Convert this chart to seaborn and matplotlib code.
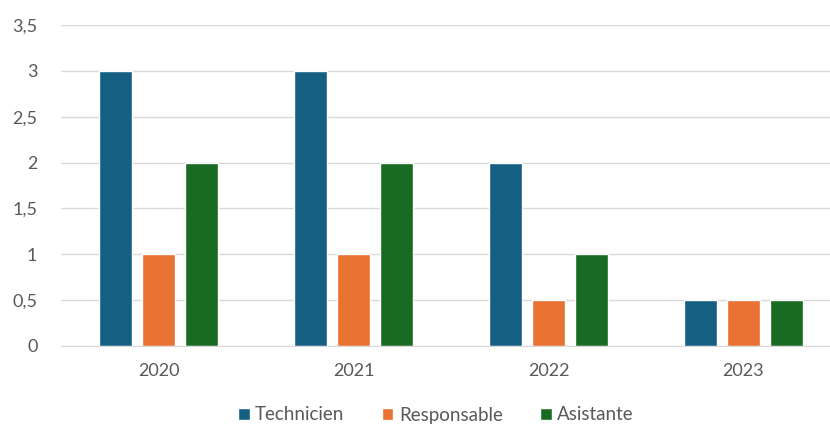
import pandas as pd
import matplotlib.pyplot as plt
import seaborn as sns

years = ["2020", "2021", "2022", "2023"]
technicien = [3, 3, 2, 0.5]
responsable = [1, 1, 0.5, 0.5]
asistante = [2, 2, 1, 0.5]
series_names = ["Technicien", "Responsable", "Asistante"]
colors = ["#156082", "#E97132", "#196B24"]

df = pd.DataFrame({
    "year": years * 3,
    "value": technicien + responsable + asistante,
    "role": [s for s in series_names for _ in years],
})

sns.set_style("white")
plt.rcParams["font.family"] = ["Lato", "DejaVu Sans"]

fig = plt.figure(figsize=(8.3, 4.28), dpi=100)
ax = fig.add_axes([61 / 830, 82 / 428, 769 / 830, 321 / 428])

sns.barplot(data=df, x="year", y="value", hue="role", palette=colors,
            width=0.66, gap=0.23, ax=ax, saturation=1, legend=True)

ax.set_xlim(-0.5, -0.5 + 769 / 195)
ax.set_ylim(0, 3.5)
ax.set_yticks([0, 0.5, 1, 1.5, 2, 2.5, 3, 3.5])
ax.set_yticklabels(["0", "0,5", "1", "1,5", "2", "2,5", "3", "3,5"])
ax.yaxis.grid(True, color="#D9D9D9", linewidth=1)
ax.set_axisbelow(True)
for s in ["top", "right", "left"]:
    ax.spines[s].set_visible(False)
ax.spines["bottom"].set_color("#D9D9D9")
ax.tick_params(axis="both", length=0, labelsize=13, colors="#595959")
ax.tick_params(axis="y", pad=17)
ax.tick_params(axis="x", pad=12)
ax.set_xlabel("")
ax.set_ylabel("")

# legend sits at the very bottom, just inside the figure
ax.legend(loc="center", bbox_to_anchor=(375 / 769, -69 / 321),
          ncol=3, frameon=False, fontsize=13.5, labelcolor="#595959",
          handlelength=0.6, handleheight=0.6, handletextpad=0.3,
          columnspacing=2.0, title=None)

fig.savefig("out.png", dpi=100)
